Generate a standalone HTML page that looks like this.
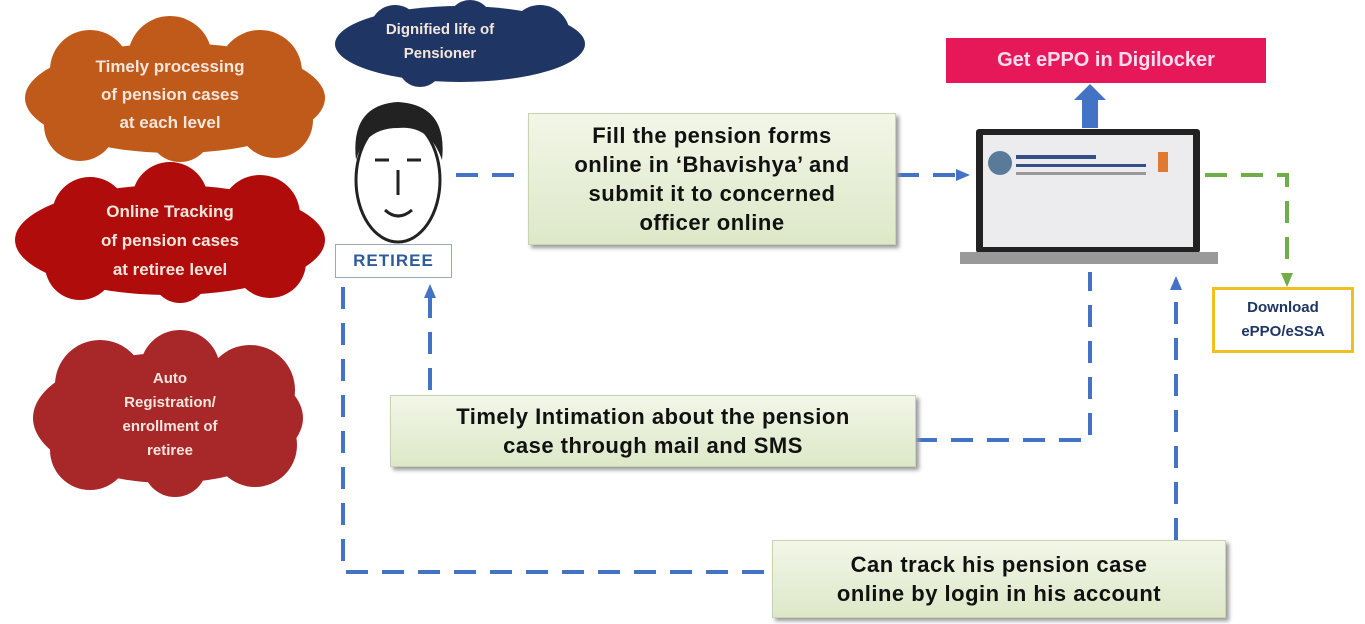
<!DOCTYPE html>
<html><head><style>
body{margin:0;width:1365px;height:624px;background:#fff;position:relative;overflow:hidden;font-family:"Liberation Sans",sans-serif}
.a{position:absolute}
.cl{display:flex;align-items:center;justify-content:center;text-align:center;color:#f4e6dc;font-weight:bold}
.gb{background:linear-gradient(#f2f6e8,#dde8c8);border:1px solid #c8d4b0;box-shadow:3px 3px 4px #999;display:flex;align-items:center;justify-content:center;text-align:center;font-weight:bold;color:#111;font-size:22px;line-height:29px;letter-spacing:0.5px}
</style></head><body>
<svg class="a" style="left:0;top:0" width="1365" height="624">
<defs>
<marker id="ab" markerUnits="userSpaceOnUse" markerWidth="14" markerHeight="14" refX="10" refY="7" orient="auto"><path d="M0,1L14,7L0,13z" fill="#4472c4"/></marker>
<marker id="ag" markerUnits="userSpaceOnUse" markerWidth="14" markerHeight="14" refX="10" refY="7" orient="auto"><path d="M0,1L14,7L0,13z" fill="#70ad47"/></marker>
</defs>
<g>
<ellipse cx="175" cy="98" rx="150" ry="55" fill="#c05a1a"/>
<circle cx="90" cy="70" r="40" fill="#c05a1a"/><circle cx="170" cy="58" r="42" fill="#c05a1a"/><circle cx="260" cy="72" r="42" fill="#c05a1a"/><circle cx="80" cy="125" r="36" fill="#c05a1a"/><circle cx="180" cy="130" r="32" fill="#c05a1a"/><circle cx="275" cy="120" r="38" fill="#c05a1a"/>
<ellipse cx="460" cy="44" rx="125" ry="38" fill="#1f3563"/>
<circle cx="395" cy="30" r="25" fill="#1f3563"/><circle cx="470" cy="22" r="22" fill="#1f3563"/><circle cx="540" cy="35" r="30" fill="#1f3563"/><circle cx="420" cy="65" r="22" fill="#1f3563"/>
<ellipse cx="170" cy="240" rx="155" ry="55" fill="#b00c0c"/>
<circle cx="90" cy="215" r="38" fill="#b00c0c"/><circle cx="170" cy="200" r="38" fill="#b00c0c"/><circle cx="260" cy="215" r="40" fill="#b00c0c"/><circle cx="80" cy="265" r="35" fill="#b00c0c"/><circle cx="180" cy="275" r="28" fill="#b00c0c"/><circle cx="270" cy="262" r="36" fill="#b00c0c"/>
<ellipse cx="168" cy="418" rx="135" ry="65" fill="#a8282a"/>
<circle cx="100" cy="385" r="45" fill="#a8282a"/><circle cx="180" cy="370" r="40" fill="#a8282a"/><circle cx="250" cy="390" r="45" fill="#a8282a"/><circle cx="90" cy="450" r="40" fill="#a8282a"/><circle cx="175" cy="465" r="32" fill="#a8282a"/><circle cx="255" cy="445" r="42" fill="#a8282a"/>
</g>
<ellipse cx="398" cy="180" rx="42" ry="62" fill="#fff" stroke="#222" stroke-width="3"/>
<path d="M356,160 Q350,105 398,102 Q448,105 442,160 Q430,125 398,128 Q365,128 356,160z" fill="#222"/>
<path d="M375,160h14M407,160h14M385,210 Q398,222 412,210M398,170v25" stroke="#222" stroke-width="3" fill="none"/>
<g fill="none" stroke="#4472c4" stroke-width="4" stroke-dasharray="22,14">
<path d="M456,175H528"/>
<path d="M897,175H966" marker-end="url(#ab)"/>
<path d="M915,440H1090V272"/>
<path d="M430,390V288" marker-end="url(#ab)"/>
<path d="M343,287V572H772"/>
<path d="M1176,540V280" marker-end="url(#ab)"/>
</g>
<path d="M1205,175H1287V283" fill="none" stroke="#70ad47" stroke-width="4" stroke-dasharray="22,14" marker-end="url(#ag)"/>
<path d="M1082,128V100H1074L1090,84L1106,100H1098V128z" fill="#4472c4"/>
<rect x="976" y="129" width="224" height="124" fill="#222" rx="3"/>
<rect x="983" y="135" width="210" height="112" fill="#ececef"/>
<circle cx="1000" cy="163" r="12" fill="#5a7a9a"/>
<rect x="1016" y="155" width="80" height="4" fill="#34508a"/><rect x="1016" y="164" width="130" height="3" fill="#34508a"/><rect x="1016" y="172" width="130" height="3" fill="#999"/>
<rect x="1158" y="152" width="10" height="20" fill="#e07a30"/>
<rect x="960" y="252" width="258" height="12" fill="#999"/>
</svg>
<div class="a cl" style="left:60px;top:50px;width:220px;height:90px;font-size:17px;line-height:28px">Timely processing<br>of pension cases<br>at each level</div>
<div class="a cl" style="left:360px;top:14px;width:160px;height:56px;font-size:15px;line-height:24px">Dignified life of<br>Pensioner</div>
<div class="a cl" style="left:50px;top:195px;width:240px;height:90px;font-size:17px;line-height:29px">Online Tracking<br>of pension cases<br>at retiree level</div>
<div class="a cl" style="left:80px;top:365px;width:180px;height:100px;font-size:15px;line-height:24px">Auto<br>Registration/<br>enrollment of<br>retiree</div>
<div class="a" style="left:335px;top:244px;width:115px;height:32px;border:1px solid #9ab;display:flex;align-items:center;justify-content:center;font-weight:bold;color:#2f5b9a;font-size:17px;letter-spacing:1px">RETIREE</div>
<div class="a gb" style="left:528px;top:113px;width:366px;height:130px">Fill the pension forms<br>online in ‘Bhavishya’ and<br>submit it to concerned<br>officer online</div>
<div class="a" style="left:946px;top:38px;width:320px;height:45px;background:#e6185a;color:#fde;font-weight:bold;font-size:20px;display:flex;align-items:center;justify-content:center">Get ePPO in Digilocker</div>
<div class="a" style="left:1212px;top:287px;width:136px;height:60px;border:3px solid #f0c020;display:flex;align-items:center;justify-content:center;text-align:center;font-weight:bold;color:#1f3563;font-size:15px;line-height:24px">Download<br>ePPO/eSSA</div>
<div class="a gb" style="left:390px;top:395px;width:524px;height:70px">Timely Intimation about the pension<br>case through mail and SMS</div>
<div class="a gb" style="left:772px;top:540px;width:452px;height:76px">Can track his pension case<br>online by login in his account</div>
</body></html>
